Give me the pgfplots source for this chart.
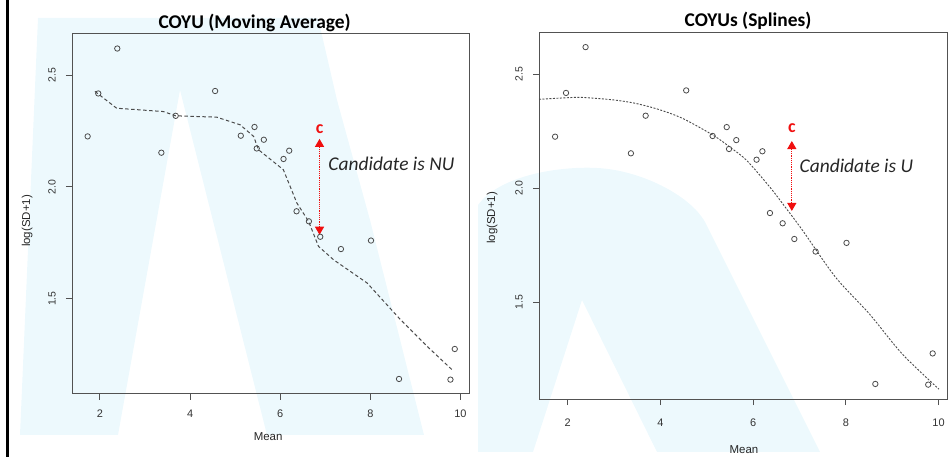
\documentclass[border=0pt]{standalone}
\usepackage{pgfplots}
\pgfplotsset{compat=1.18}
\usepackage{pgfplotstable}
\usepackage{fontspec}
\setmainfont{Liberation Sans}
\newfontfamily\carlito{Carlito}
\usetikzlibrary{arrows.meta}
\definecolor{wm}{RGB}{237,249,253}
\definecolor{pt}{RGB}{75,75,75}
\definecolor{cred}{RGB}{240,15,15}

\pgfplotstableread{
x y
1.727 2.226
1.963 2.418
2.385 2.619
3.363 2.153
3.681 2.318
4.556 2.429
5.126 2.229
5.430 2.268
5.480 2.172
5.637 2.211
6.074 2.125
6.200 2.162
6.363 1.891
6.637 1.846
6.889 1.777
7.348 1.722
8.015 1.760
8.637 1.141
9.778 1.138
9.874 1.275
}\pts

\pgfplotstableread{
x y
1.89 2.427
2.37 2.352
3.41 2.337
3.68 2.318
4.59 2.312
5.11 2.278
5.41 2.226
5.52 2.166
6.07 2.077
6.37 1.928
6.63 1.846
6.85 1.734
7.185 1.674
7.93 1.570
8.67 1.406
9.26 1.287
9.81 1.183
}\mavg

\pgfplotstableread{
x y
1.38 2.390
2.00 2.397
2.34 2.398
3.00 2.387
3.49 2.371
4.00 2.343
4.49 2.305
5.14 2.232
5.50 2.180
5.86 2.122
6.36 2.005
6.70 1.915
7.07 1.814
7.78 1.609
8.51 1.448
9.22 1.272
10.01 1.118
}\spl

\pgfplotsset{
 rstyle/.style={
   scale only axis,
   xmin=1.38, xmax=10.19, ymin=1.075, ymax=2.684,
   xtick={2,4,6,8,10}, ytick={1.5,2.0,2.5},
   xticklabels={2,4,6,8,10}, yticklabels={1.5,2.0,2.5},
   tick pos=left, tick align=outside,
   major tick length=6bp,
   axis line style={draw=black!68, line width=1bp},
   every tick/.style={draw=black!68, line width=1bp},
   every tick label/.append style={text=black!80},
   yticklabel style={rotate=90, anchor=south, inner sep=0pt, font=\fontsize{10.5}{12}\selectfont},
   xticklabel style={inner sep=0pt, font=\fontsize{11}{13}\selectfont},
   /pgf/number format/assume math mode=true,
   label style={font=\fontsize{11.5}{13}\selectfont, text=black!85},
   title style={font=\carlito\bfseries\fontsize{19.5}{22}\selectfont, anchor=center, yshift=0pt},
   clip=false,
 },
 arr/.style={cred, line width=1bp, dash pattern=on 1.2bp off 1bp,
   {Triangle[width=9bp,length=8bp]}-{Triangle[width=9bp,length=8bp]}},
}

\begin{document}
\begin{tikzpicture}
\useasboundingbox (0,0) rectangle (951bp,457bp);
\begin{scope}[shift={(0,457bp)}, x=1bp, y=-1bp]
 \fill[wm] (20,435) -- (38,18) -- (318,18) -- (337,100) -- (370,220) -- (424,435) -- (267,435) -- (180,90) -- (118,435) -- cycle;
 \fill[wm] (478,452) -- (478,205) .. controls (500,175) and (560,166) .. (597,168) .. controls (640,170) and (690,195) .. (705,222) -- (820,452) -- (657,452) -- (582,300) -- (533,452) -- cycle;
 \fill[black] (6,0) rectangle (9,457);
\end{scope}

\begin{axis}[rstyle, at={(72bp,63.3bp)}, anchor=south west, width=397bp, height=359.7bp,
  title={COYU (Moving Average)}, title style={at={(axis description cs:0.46,1.013)}},
  xlabel={Mean}, ylabel={log(SD+1)},
  xlabel style={at={(axis description cs:0.494,-0.120)}, anchor=center},
  ylabel style={at={(axis description cs:-0.113,0.48)}, anchor=center},
  yticklabel shift=10bp, xticklabel shift=10bp]
 \addplot[only marks, mark=o, mark size=2.7bp, mark options={draw=pt, line width=0.8bp}] table {\pts};
 \addplot[pt, line width=1bp, dash pattern=on 3.5bp off 2.5bp] table {\mavg};
 \addplot[arr] coordinates {(6.873,2.215) (6.873,1.786)};
 \node[cred, inner sep=0pt, font=\carlito\bfseries\fontsize{18}{20}\selectfont] at (axis cs:6.873,2.259) {c};
 \node[anchor=west, inner sep=0pt, text=black!85, font=\carlito\itshape\fontsize{19.5}{22}\selectfont] at (axis cs:7.067,2.104) {Candidate is NU};
\end{axis}

\begin{axis}[rstyle, at={(539bp,58bp)}, anchor=south west, width=408.3bp, height=366.7bp,
  title={COYUs (Splines)}, title style={at={(axis description cs:0.512,1.015)}},
  xlabel={Mean}, ylabel={log(SD+1)},
  xlabel style={at={(axis description cs:0.502,-0.139)}, anchor=center},
  ylabel style={at={(axis description cs:-0.115,0.494)}, anchor=center},
  yticklabel shift=10bp, xticklabel shift=14bp]
 \addplot[only marks, mark=o, mark size=2.7bp, mark options={draw=pt, line width=0.8bp}] table {\pts};
 \addplot[pt, line width=0.9bp, dash pattern=on 2bp off 1.5bp, smooth] table {\spl};
 \addplot[arr] coordinates {(6.835,2.207) (6.835,1.900)};
 \node[cred, inner sep=0pt, font=\carlito\bfseries\fontsize{18}{20}\selectfont] at (axis cs:6.835,2.264) {c};
 \node[anchor=west, inner sep=0pt, text=black!85, font=\carlito\itshape\fontsize{19.5}{22}\selectfont] at (axis cs:7.0,2.099) {Candidate is U};
\end{axis}
\end{tikzpicture}
\end{document}
